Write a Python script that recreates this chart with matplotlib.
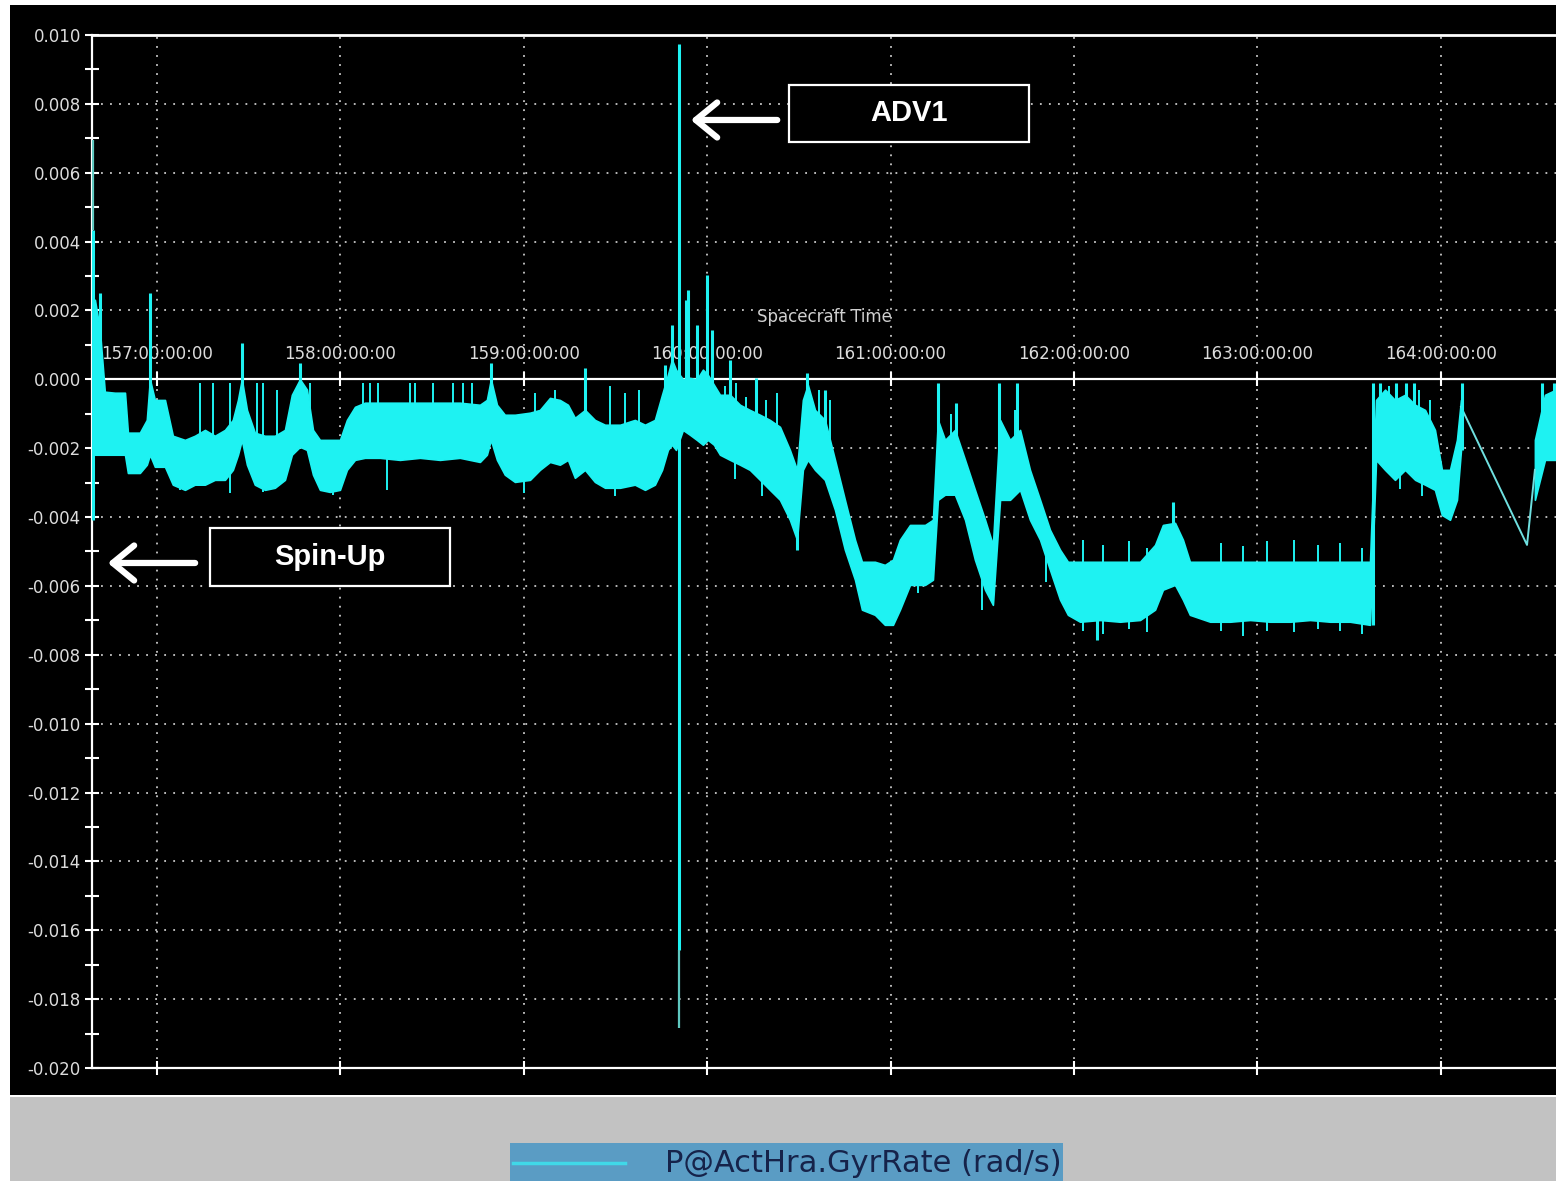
import matplotlib
matplotlib.use("Agg")
import matplotlib.pyplot as plt
from matplotlib.patches import Rectangle, FancyArrowPatch
from matplotlib.lines import Line2D
import numpy as np

plt.rcParams['axes.unicode_minus'] = False

# ---------------- data ----------------
day_ticks = [157, 158, 159, 160, 161, 162, 163, 164]
day_labels = ["157:00:00:00", "158:00:00:00", "159:00:00:00", "160:00:00:00",
              "161:00:00:00", "162:00:00:00", "163:00:00:00", "164:00:00:00"]
y_ticks = [0.010, 0.008, 0.006, 0.004, 0.002, 0.000, -0.002, -0.004, -0.006,
           -0.008, -0.010, -0.012, -0.014, -0.016, -0.018, -0.020]

# dense signal envelope: time (day), upper and lower values (mrad/s)
band_t = [156.662, 156.689, 156.716, 156.771, 156.826, 156.842, 156.907, 156.945, 156.962, 156.989,
          157.044, 157.087, 157.153, 157.207, 157.262, 157.316, 157.371, 157.414, 157.442, 157.463,
          157.491, 157.534, 157.589, 157.643, 157.698, 157.736, 157.780, 157.818, 157.851, 157.889,
          157.943, 157.998, 158.036, 158.080, 158.134, 158.216, 158.325, 158.434, 158.543, 158.652,
          158.761, 158.799, 158.821, 158.854, 158.897, 158.952, 159.034, 159.088, 159.143, 159.197,
          159.241, 159.279, 159.334, 159.388, 159.443, 159.525, 159.606, 159.661, 159.715, 159.754,
          159.786, 159.808, 159.830, 159.868, 159.906, 159.944, 159.977, 160.004, 160.037, 160.070,
          160.125, 160.179, 160.233, 160.288, 160.342, 160.397, 160.451, 160.490, 160.522, 160.549,
          160.588, 160.642, 160.697, 160.751, 160.806, 160.844, 160.915, 160.969, 161.013, 161.051,
          161.106, 161.188, 161.231, 161.258, 161.297, 161.351, 161.406, 161.460, 161.515, 161.558,
          161.597, 161.651, 161.706, 161.760, 161.815, 161.869, 161.924, 161.967, 162.033, 162.142,
          162.251, 162.360, 162.442, 162.485, 162.551, 162.594, 162.632, 162.742, 162.851, 162.960,
          163.069, 163.178, 163.287, 163.396, 163.505, 163.614, 163.647, 163.696, 163.750, 163.805,
          163.860, 163.914, 163.968, 164.006, 164.050, 164.088, 164.110]
band_hi = [2.31, 1.44, -0.36, -0.39, -0.39, -1.55, -1.55, -1.18, 0.00, -0.60,
           -0.60, -1.64, -1.76, -1.64, -1.47, -1.64, -1.47, -1.18, -0.60, 0.00,
           -0.89, -1.55, -1.64, -1.64, -1.47, -0.45, 0.00, -0.30, -1.47, -1.76,
           -1.76, -1.76, -1.18, -0.80, -0.68, -0.68, -0.68, -0.68, -0.68, -0.68,
           -0.74, -0.60, 0.00, -0.74, -1.03, -1.03, -0.97, -0.89, -0.54, -0.60,
           -0.74, -1.12, -0.89, -1.18, -1.32, -1.32, -1.18, -1.32, -1.18, -0.45,
           0.13, 0.57, 0.28, 0.00, 0.04, 0.00, 0.28, 0.13, -0.16, -0.45,
           -0.45, -0.74, -0.89, -1.03, -1.18, -1.38, -2.05, -2.63, -0.60, -0.16,
           -0.89, -1.18, -2.34, -3.50, -4.66, -5.30, -5.30, -5.39, -5.24, -4.66,
           -4.23, -4.23, -4.08, -1.18, -1.76, -1.47, -2.34, -3.21, -4.08, -4.81,
           -1.18, -1.76, -1.47, -2.63, -3.50, -4.37, -4.95, -5.30, -5.30, -5.30,
           -5.30, -5.30, -4.81, -4.23, -4.17, -4.66, -5.30, -5.30, -5.30, -5.30,
           -5.30, -5.30, -5.30, -5.30, -5.30, -5.30, -0.60, -0.30, -0.60, -0.45,
           -0.74, -0.89, -1.47, -2.63, -2.63, -1.76, -0.60]
band_lo = [-2.19, -2.19, -2.19, -2.19, -2.19, -2.72, -2.72, -2.48, -2.19, -2.54,
           -2.54, -3.06, -3.21, -3.06, -3.06, -2.92, -2.92, -2.63, -2.19, -1.76,
           -2.48, -3.06, -3.21, -3.15, -2.92, -2.19, -1.96, -2.05, -2.77, -3.21,
           -3.27, -3.21, -2.63, -2.34, -2.28, -2.28, -2.34, -2.28, -2.34, -2.28,
           -2.40, -2.19, -1.76, -2.34, -2.77, -2.98, -2.92, -2.63, -2.40, -2.48,
           -2.34, -2.86, -2.63, -2.98, -3.15, -3.15, -3.06, -3.21, -3.06, -2.63,
           -2.05, -1.90, -2.05, -1.47, -1.61, -1.76, -1.90, -1.76, -1.90, -2.19,
           -2.34, -2.48, -2.63, -2.92, -3.21, -3.50, -4.08, -4.66, -2.63, -2.34,
           -2.63, -2.92, -3.79, -4.95, -5.82, -6.69, -6.84, -7.13, -7.13, -6.69,
           -5.97, -5.97, -5.82, -3.50, -3.35, -3.35, -4.08, -5.24, -6.11, -6.55,
           -3.50, -3.50, -3.21, -4.08, -4.66, -5.53, -6.40, -6.84, -7.04, -6.99,
           -7.04, -6.99, -6.69, -6.11, -5.97, -6.40, -6.84, -7.04, -7.04, -6.99,
           -7.04, -7.04, -6.99, -7.04, -7.04, -7.13, -2.34, -2.63, -2.92, -2.63,
           -2.92, -3.06, -3.21, -3.94, -4.08, -3.50, -2.05]

band2_t = [164.513, 164.568, 164.628]
band2_hi = [-1.76, -0.45, -0.30]
band2_lo = [-3.50, -2.34, -2.34]

# straight segment across the data gap
gap_t = [164.110, 164.470, 164.513]
gap_v = [-0.80, -4.81, -2.63]

# isolated spikes: time, top, bottom (mrad/s)
spike_t = [156.651, 156.689, 156.962, 157.463, 157.780, 158.821, 159.334, 159.770, 159.808, 159.846,
           159.884, 159.895, 159.944, 160.000, 160.026, 160.125, 160.267, 160.490, 160.542, 160.642,
           161.258, 161.356, 161.591, 161.689, 162.124, 162.540, 163.630, 163.666, 163.758, 163.810,
           163.853, 164.115, 164.552, 164.617]
spike_top = [4.34, 2.51, 2.51, 1.06, 0.48, 0.48, 0.33, 0.42, 1.58, 9.75,
             2.31, 2.60, 1.58, 3.04, 1.44, 0.57, 0.04, -2.63, 0.19, -0.30,
             -0.10, -0.68, -0.10, -0.10, -6.00, -3.56, -0.10, -0.10, -0.10, -0.10,
             -0.10, -0.10, -0.10, -0.10]
spike_bot = [-4.08, -0.60, -1.18, -1.18, -1.18, -1.18, -1.47, -1.47, -1.76, -16.57,
             -1.18, -1.00, -1.18, -1.18, -1.47, -1.76, -2.00, -4.95, -2.34, -2.05,
             -2.63, -2.63, -2.92, -2.92, -7.57, -5.24, -7.13, -1.76, -2.00, -1.76,
             -2.00, -2.05, -1.76, -1.76]

# faint tails of the two big events
faint_t = [156.651, 159.846]
faint_top = [6.96, -16.57]
faint_bot = [4.34, -18.84]

# small noise spikes rising out of the band
noise_up_t = [157.234, 157.305, 157.398, 157.545, 157.578, 157.654, 157.834, 158.123, 158.161,
              158.205, 158.380, 158.407, 158.505, 158.614, 158.668, 158.718, 159.060, 159.170,
              159.470, 159.550, 159.630, 160.100, 160.160, 160.210, 160.320, 160.380, 160.610,
              160.670, 161.330, 161.680, 163.720, 163.880, 163.940]
noise_up_top = [-0.10, -0.10, -0.10, -0.10, -0.10, -0.30, -0.10, -0.10, -0.10,
                -0.10, -0.10, -0.10, -0.10, -0.10, -0.10, -0.10, -0.40, -0.30,
                -0.20, -0.40, -0.30, -0.20, -0.10, -0.50, -0.60, -0.40, -0.30,
                -0.60, -1.00, -0.90, -0.20, -0.30, -0.60]
noise_up_bot = [-1.80, -1.80, -1.80, -1.80, -1.80, -1.80, -1.80, -1.80, -1.80,
                -1.80, -1.80, -1.80, -1.80, -1.80, -1.80, -1.80, -1.80, -1.80,
                -1.80, -1.80, -1.80, -1.50, -1.50, -1.60, -1.90, -2.10, -1.80,
                -2.00, -2.50, -2.40, -1.50, -1.60, -1.80]
noise_dn_t = [157.125, 157.398, 157.578, 157.960, 158.254, 159.000, 159.500, 160.150,
              160.300, 160.700, 161.150, 161.500, 161.850, 163.780, 163.900]
noise_dn_bot = [-3.21, -3.30, -3.27, -3.35, -3.21, -3.30, -3.40, -2.90,
                -3.40, -3.60, -6.20, -6.70, -5.90, -3.20, -3.40]
noise_dn_top = [-2.20, -2.20, -2.20, -2.20, -2.20, -2.20, -2.20, -2.00,
                -2.60, -2.80, -5.20, -5.60, -5.00, -2.30, -2.60]

# noise spikes on the flat low segment
flat_t = [162.050, 162.160, 162.300, 162.400, 162.800, 162.920, 163.050, 163.200, 163.330, 163.450, 163.570]
flat_top = [-4.66, -4.81, -4.70, -4.90, -4.75, -4.85, -4.70, -4.66, -4.80, -4.75, -4.90]
flat_bot = [-7.30, -7.40, -7.25, -7.35, -7.30, -7.45, -7.30, -7.35, -7.25, -7.30, -7.40]

legend_label = "P@ActHra.GyrRate (rad/s)"

# ---------------- drawing ----------------
W, H = 1556, 1181
fig = plt.figure(figsize=(W / 100, H / 100), dpi=100)
fig.patch.set_facecolor('white')

# black plot panel and grey legend strip
fig.add_artist(Rectangle((0.0064, 0.0728), 0.9936, 0.9229, transform=fig.transFigure,
                         facecolor='black', edgecolor='none', zorder=0))
fig.add_artist(Rectangle((0.0064, 0.0), 0.9936, 0.0711, transform=fig.transFigure,
                         facecolor='#c2c2c2', edgecolor='none', zorder=0))

ax = fig.add_axes([0.0591, 0.0957, 0.9409, 0.8747])
ax.set_facecolor('black')
ax.patch.set_alpha(0.0)

cyan = '#1ef2f2'
m = 1e-3
ax.fill_between(band_t, np.array(band_lo) * m, np.array(band_hi) * m, color=cyan,
                linewidth=1.2, edgecolor=cyan, zorder=3)
ax.fill_between(band2_t, np.array(band2_lo) * m, np.array(band2_hi) * m, color=cyan,
                linewidth=1.2, edgecolor=cyan, zorder=3)
ax.plot(gap_t, np.array(gap_v) * m, color='#6fe0e0', lw=1.4, zorder=3)
ax.vlines(spike_t, np.array(spike_bot) * m, np.array(spike_top) * m, color=cyan, lw=2.2, zorder=4)
ax.vlines(faint_t, np.array(faint_bot) * m, np.array(faint_top) * m, color='#5fc8c0', lw=1.6, zorder=4)
ax.vlines(noise_up_t, np.array(noise_up_bot) * m, np.array(noise_up_top) * m, color=cyan, lw=1.4, zorder=3)
ax.vlines(noise_dn_t, np.array(noise_dn_bot) * m, np.array(noise_dn_top) * m, color=cyan, lw=1.4, zorder=3)
ax.vlines(flat_t, np.array(flat_bot) * m, np.array(flat_top) * m, color=cyan, lw=1.4, zorder=3)

ax.set_xlim(156.646, 164.628)
ax.set_ylim(-0.020, 0.010)

# axes styling
for s in ['left', 'bottom', 'top']:
    ax.spines[s].set_color('white')
    ax.spines[s].set_linewidth(1.6)
ax.spines['right'].set_visible(False)
ax.spines['top'].set_position(('data', 0.0))
ax.axhline(0.010, color='white', lw=2.0, clip_on=False, zorder=5)

ax.set_yticks(y_ticks)
ax.set_yticklabels([f"{v:.3f}" for v in y_ticks])
ax.set_yticks(np.arange(-0.019, 0.010, 0.002), minor=True)
ax.tick_params(axis='y', which='both', direction='inout', length=10, width=1.5,
               colors='white', labelcolor='#dcdcdc', labelsize=12, pad=3)

ax.set_xticks(day_ticks)
ax.set_xticklabels(day_labels)
ax.xaxis.set_ticks_position('top')
ax.tick_params(axis='x', which='both', top=True, bottom=True, labeltop=True, labelbottom=False,
               direction='inout', length=10, width=1.5, colors='white',
               labelcolor='#dcdcdc', labelsize=12, pad=7)
ax.xaxis.set_label_position('top')
ax.set_xlabel("Spacecraft Time", color='#d0d0d0', fontsize=12, labelpad=16)

ax.grid(True, which='major', color='#c8c8c8', linestyle=(0, (1, 4)), linewidth=1.3, zorder=1)
ax.set_axisbelow(True)

# annotations
def box_label(x0, y0, w, h, text):
    fig.add_artist(Rectangle((x0, y0), w, h, transform=fig.transFigure, facecolor='black',
                             edgecolor='white', linewidth=1.6, zorder=10))
    fig.text(x0 + w / 2, y0 + h / 2, text, ha='center', va='center', color='white',
             fontsize=21, fontweight='bold', family='Liberation Sans', zorder=11)

def arrow(x0, x1, y):
    fig.add_artist(FancyArrowPatch((x0, y), (x1, y), transform=fig.transFigure,
                                   arrowstyle='->,head_length=0.55,head_width=0.45',
                                   mutation_scale=28, color='white', lw=4.5, zorder=11))

box_label(0.5071, 0.8798, 0.1542, 0.0483, "ADV1")
arrow(0.5013, 0.4422, 0.8984)
box_label(0.1350, 0.5038, 0.1542, 0.0491, "Spin-Up")
arrow(0.1272, 0.0675, 0.5233)

# legend strip
fig.add_artist(Rectangle((0.3278, 0.0), 0.3554, 0.0322, transform=fig.transFigure,
                         facecolor='#5a9cc4', edgecolor='none', zorder=2))
fig.add_artist(Line2D([0.3297, 0.4017], [0.0152, 0.0152], transform=fig.transFigure,
                      color='#40d8e8', lw=2.5, zorder=3))
fig.text(0.4274, 0.0150, legend_label, ha='left', va='center', color='#16234a',
         fontsize=22, family=['Liberation Sans Narrow', 'DejaVu Sans'], zorder=3)

fig.savefig('out.png', dpi=100, facecolor=fig.get_facecolor())
